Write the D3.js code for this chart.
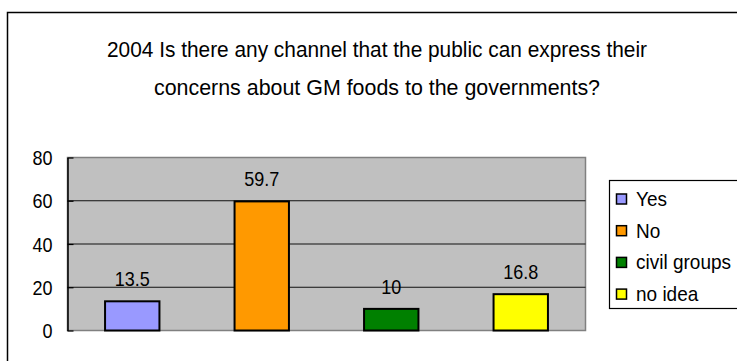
<!DOCTYPE html>
<html>
<head>
<meta charset="utf-8">
<script src="https://cdn.jsdelivr.net/npm/d3@7"></script>
<style>
  body { margin: 0; background: #fff; }
  svg { display: block; font-family: "Liberation Sans", Arial, sans-serif; }
</style>
</head>
<body>
<svg id="chart" width="737" height="361"></svg>
<script>
const categories = ['Yes', 'No', 'civil groups', 'no idea'];
const values = [13.5, 59.7, 10, 16.8];
const colors = ['#9999FF', '#FF9900', '#008000', '#FFFF00'];
const yTicks = [0, 20, 40, 60, 80];
const titleLines = [
  '2004 Is there any channel that the public can express their',
  'concerns about GM foods to the governments?'
];

const svg = d3.select('#chart');
const plot = {left: 67.5, top: 157.5, right: 585.5, bottom: 330.5};
const squeeze = 0.9;

// outer chart border (runs off the right/bottom edges)
svg.append('rect')
  .attr('x', 7.5).attr('y', 12.5)
  .attr('width', 800).attr('height', 400)
  .attr('fill', '#fff').attr('stroke', '#000').attr('stroke-width', 1.5);

// title
const titleY = [57, 95];
const titleW = [540, 446];
svg.append('g')
  .selectAll('text')
  .data(titleLines)
  .join('text')
  .attr('x', 377)
  .attr('y', (d, i) => titleY[i])
  .attr('text-anchor', 'middle')
  .attr('font-size', 22)
  .attr('textLength', (d, i) => titleW[i])
  .attr('lengthAdjust', 'spacingAndGlyphs')
  .text(d => d);

const x = d3.scaleBand()
  .domain(categories)
  .range([plot.left, plot.right])
  .paddingInner(0.58)
  .paddingOuter(0.29);

const y = d3.scaleLinear()
  .domain([0, 80])
  .range([plot.bottom, plot.top]);

// plot area
svg.append('rect')
  .attr('x', plot.left).attr('y', plot.top)
  .attr('width', plot.right - plot.left)
  .attr('height', plot.bottom - plot.top)
  .attr('fill', '#C0C0C0')
  .attr('stroke', '#808080').attr('stroke-width', 1.5);

// gridlines
svg.append('g')
  .selectAll('line')
  .data(yTicks.filter(t => t > 0 && t < 80))
  .join('line')
  .attr('x1', plot.left).attr('x2', plot.right)
  .attr('y1', d => y(d)).attr('y2', d => y(d))
  .attr('stroke', '#111').attr('stroke-width', 1);

// y axis, ticks point inward
const yAxis = svg.append('g')
  .attr('transform', `translate(${plot.left},0)`)
  .call(d3.axisLeft(y).tickValues(yTicks).tickSizeInner(-6).tickSizeOuter(0).tickPadding(0));
yAxis.select('.domain').attr('stroke', '#000').attr('stroke-width', 1.5);
yAxis.selectAll('.tick line').attr('stroke', '#000').attr('stroke-width', 1.2);
yAxis.selectAll('.tick text')
  .attr('font-size', 20)
  .attr('fill', '#000')
  .attr('x', null)
  .attr('dy', null)
  .attr('text-anchor', 'end')
  .attr('transform', `translate(-15,7) scale(${squeeze},1)`);

// bars
svg.append('g')
  .selectAll('rect')
  .data(values)
  .join('rect')
  .attr('x', (d, i) => x(categories[i]))
  .attr('y', d => y(d))
  .attr('width', x.bandwidth())
  .attr('height', d => y(0) - y(d))
  .attr('fill', (d, i) => colors[i])
  .attr('stroke', '#000').attr('stroke-width', 2);

// value labels
svg.append('g')
  .selectAll('text')
  .data(values)
  .join('text')
  .attr('text-anchor', 'middle')
  .attr('font-size', 20)
  .attr('transform', (d, i) =>
    `translate(${x(categories[i]) + x.bandwidth() / 2},${y(d) - 15}) scale(${squeeze},1)`)
  .text(d => d);

// legend
const legend = svg.append('g').attr('transform', 'translate(609,180)');
legend.append('rect')
  .attr('x', 0.5).attr('y', 0.5)
  .attr('width', 200).attr('height', 128)
  .attr('fill', '#fff').attr('stroke', '#000').attr('stroke-width', 1.2);

const item = legend.selectAll('g.item')
  .data(categories)
  .join('g')
  .attr('class', 'item')
  .attr('transform', (d, i) => `translate(0,${19 + i * 31.7})`);

item.append('rect')
  .attr('x', 7.5).attr('y', -5)
  .attr('width', 10).attr('height', 10)
  .attr('fill', (d, i) => colors[i])
  .attr('stroke', '#000').attr('stroke-width', 1.5);

item.append('text')
  .attr('font-size', 20)
  .attr('transform', `translate(27,7) scale(0.95,1)`)
  .text(d => d);
</script>
</body>
</html>
